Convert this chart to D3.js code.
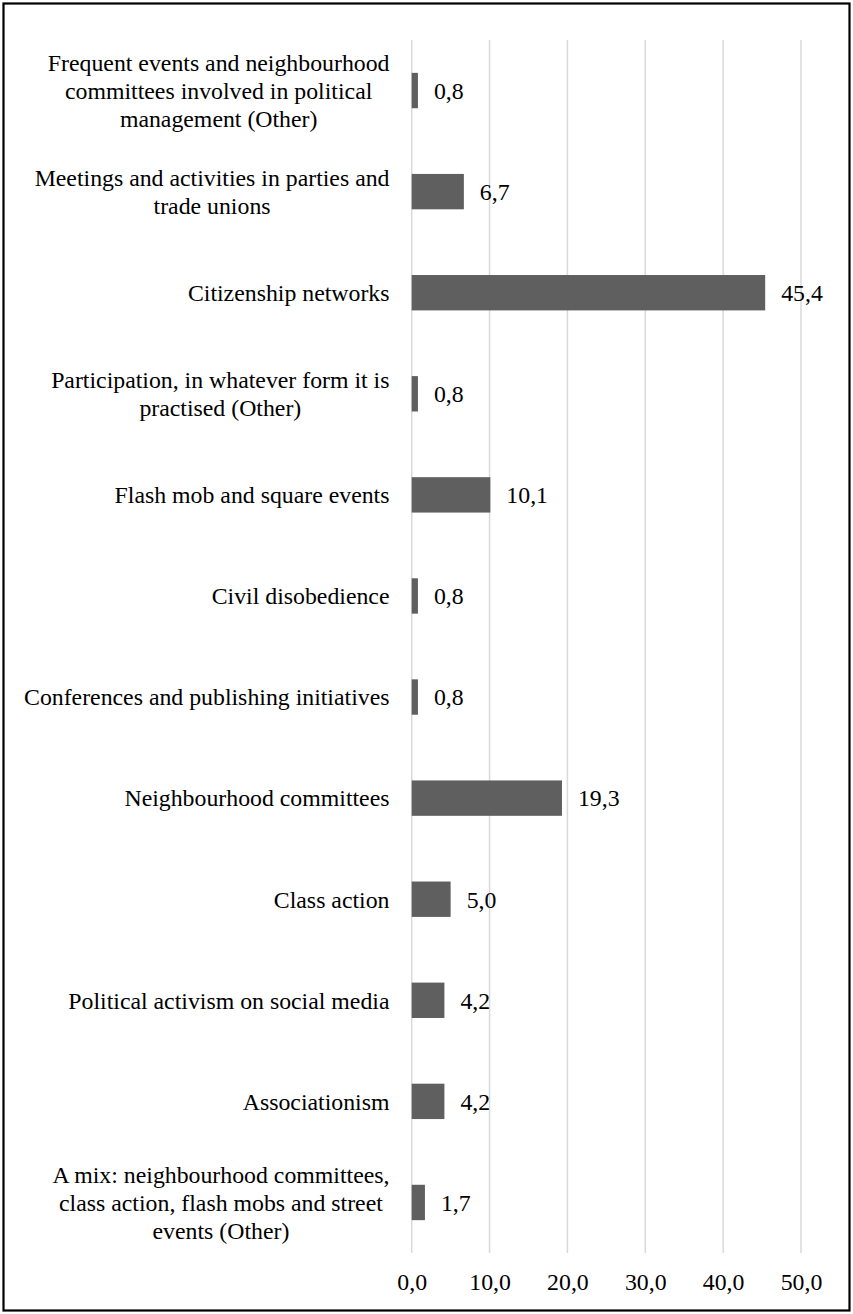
<!DOCTYPE html>
<html>
<head>
<meta charset="utf-8">
<script src="https://cdn.jsdelivr.net/npm/d3@7"></script>
<style>
  html, body { margin: 0; padding: 0; background: #fff; }
  svg { display: block; }
</style>
</head>
<body>
<svg id="chart" width="853" height="1314"></svg>
<script>
// Forms of participation (%), top to bottom
const categories = [
  "Frequent events and neighbourhood\ncommittees involved in political\nmanagement (Other)",
  "Meetings and activities in parties and\ntrade unions",
  "Citizenship networks",
  "Participation, in whatever form it is\npractised (Other)",
  "Flash mob and square events",
  "Civil disobedience",
  "Conferences and publishing initiatives",
  "Neighbourhood committees",
  "Class action",
  "Political activism on social media",
  "Associationism",
  "A mix: neighbourhood committees,\nclass action, flash mobs and street\nevents (Other)"
];
const values = [0.8, 6.7, 45.4, 0.8, 10.1, 0.8, 0.8, 19.3, 5.0, 4.2, 4.2, 1.7];
const tickValues = [0, 10, 20, 30, 40, 50];

const W = 853, H = 1314;
const plot = { left: 411.7, right: 801, top: 40, bottom: 1253 };
const FONT = "'Liberation Serif', 'Times New Roman', serif";
const fontSize = 23.8;
const lineHeight = 28;

const svg = d3.select("#chart");
const fmt = v => d3.format(".1f")(v).replace(".", ",");

const x = d3.scaleLinear().domain([0, 50]).range([plot.left, plot.right]);
const y = d3.scaleBand().domain(categories).range([plot.top, plot.bottom]).paddingInner(0.65).paddingOuter(0.325);

// Outer frame
svg.append("rect")
  .attr("x", 3.5).attr("y", 3.5)
  .attr("width", W - 7).attr("height", H - 7)
  .attr("fill", "#fff").attr("stroke", "#000").attr("stroke-width", 2.2);

// Vertical gridlines
svg.append("g")
  .selectAll("line")
  .data(tickValues)
  .join("line")
  .attr("x1", d => x(d)).attr("x2", d => x(d))
  .attr("y1", plot.top).attr("y2", plot.bottom)
  .attr("stroke", "#d9d9d9").attr("stroke-width", 1.5);

// X axis labels
const xAxis = d3.axisBottom(x).tickValues(tickValues).tickFormat(fmt).tickSize(0).tickPadding(0);
const gx = svg.append("g")
  .attr("transform", `translate(0,${plot.bottom})`)
  .call(xAxis);
gx.select(".domain").remove();
gx.selectAll("text")
  .attr("y", 0).attr("dy", "0.35em")
  .attr("transform", "translate(0,29)")
  .style("font-family", FONT)
  .style("font-size", fontSize + "px")
  .attr("fill", "#000");

// Bars
svg.append("g")
  .selectAll("rect")
  .data(values)
  .join("rect")
  .attr("x", x(0))
  .attr("y", (d, i) => y(categories[i]))
  .attr("width", d => x(d) - x(0))
  .attr("height", y.bandwidth())
  .attr("fill", "#5f5f5f");

// Value labels
svg.append("g")
  .selectAll("text")
  .data(values)
  .join("text")
  .attr("x", d => x(d) + 16)
  .attr("y", (d, i) => y(categories[i]) + y.bandwidth() / 2)
  .attr("dy", "0.35em")
  .style("font-family", FONT)
  .style("font-size", fontSize + "px")
  .attr("fill", "#000")
  .text(d => fmt(d));

// Category labels: wrapped lines centred in a block whose right edge sits at labelRight
const labelRight = 389.5;
const labels = svg.append("g");
categories.forEach(cat => {
  const lines = cat.split("\n");
  const cy = y(cat) + y.bandwidth() / 2;
  const t = labels.append("text")
    .style("font-family", FONT)
    .style("font-size", fontSize + "px")
    .attr("fill", "#000")
    .attr("text-anchor", "middle");
  lines.forEach((ln, j) => {
    t.append("tspan")
      .attr("x", 0)
      .attr("y", cy + (j - (lines.length - 1) / 2) * lineHeight)
      .attr("dy", "0.35em")
      .text(ln);
  });
  let maxW = 0;
  t.selectAll("tspan").each(function () { maxW = Math.max(maxW, this.getComputedTextLength()); });
  const cx = labelRight - maxW / 2;
  t.selectAll("tspan").attr("x", cx);
});
</script>
</body>
</html>
